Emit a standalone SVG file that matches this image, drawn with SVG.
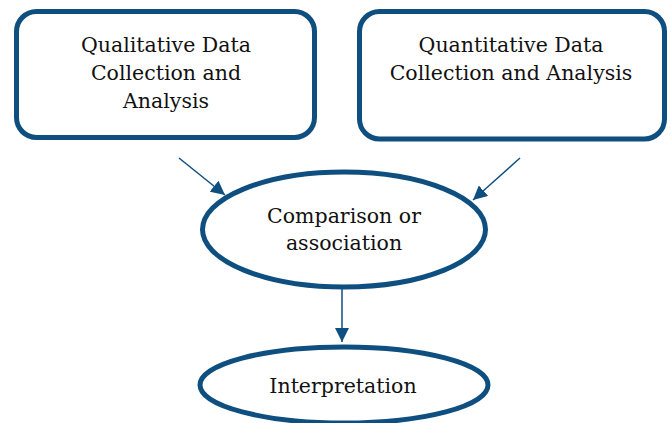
<svg xmlns="http://www.w3.org/2000/svg" width="671" height="423" viewBox="0 0 671 423">
<style>
.box{fill:#fff;stroke:#0f4f80;stroke-width:5}
.t{font-family:"DejaVu Serif","Liberation Serif",serif;font-size:20.5px;fill:#111;text-anchor:middle}
.c{stroke:#0f4f80;stroke-width:1.5;fill:none}
</style>
<defs>
<marker id="ah" viewBox="0 0 10 10" refX="10" refY="5" markerWidth="14" markerHeight="14" markerUnits="userSpaceOnUse" orient="auto">
<path d="M0,0 L10,5 L0,10 z" fill="#0f4f80"/>
</marker>
</defs>
<rect width="671" height="423" fill="#fff"/>
<g id="qual">
<rect class="box" x="16.5" y="11.5" width="298" height="126" rx="20"/>
<text class="t" x="166" y="52">Qualitative Data</text>
<text class="t" x="166" y="80">Collection and</text>
<text class="t" x="166" y="108">Analysis</text>
</g>
<g id="quant">
<rect class="box" x="359.5" y="11.5" width="305" height="127.5" rx="20"/>
<text class="t" x="511" y="52">Quantitative Data</text>
<text class="t" x="511" y="80">Collection and Analysis</text>
</g>
<g id="comp">
<ellipse class="box" cx="344" cy="229.5" rx="141.5" ry="57.5"/>
<text class="t" x="344" y="223">Comparison or</text>
<text class="t" x="344" y="250">association</text>
</g>
<g id="interp">
<ellipse class="box" cx="344" cy="385" rx="144" ry="38"/>
<text class="t" x="343" y="393">Interpretation</text>
</g>
<g id="connectors">
<line class="c" x1="179" y1="158" x2="225" y2="195" marker-end="url(#ah)"/>
<line class="c" x1="520" y1="158" x2="473" y2="200" marker-end="url(#ah)"/>
<line class="c" x1="342" y1="287" x2="342" y2="342" marker-end="url(#ah)"/>
</g>
</svg>
